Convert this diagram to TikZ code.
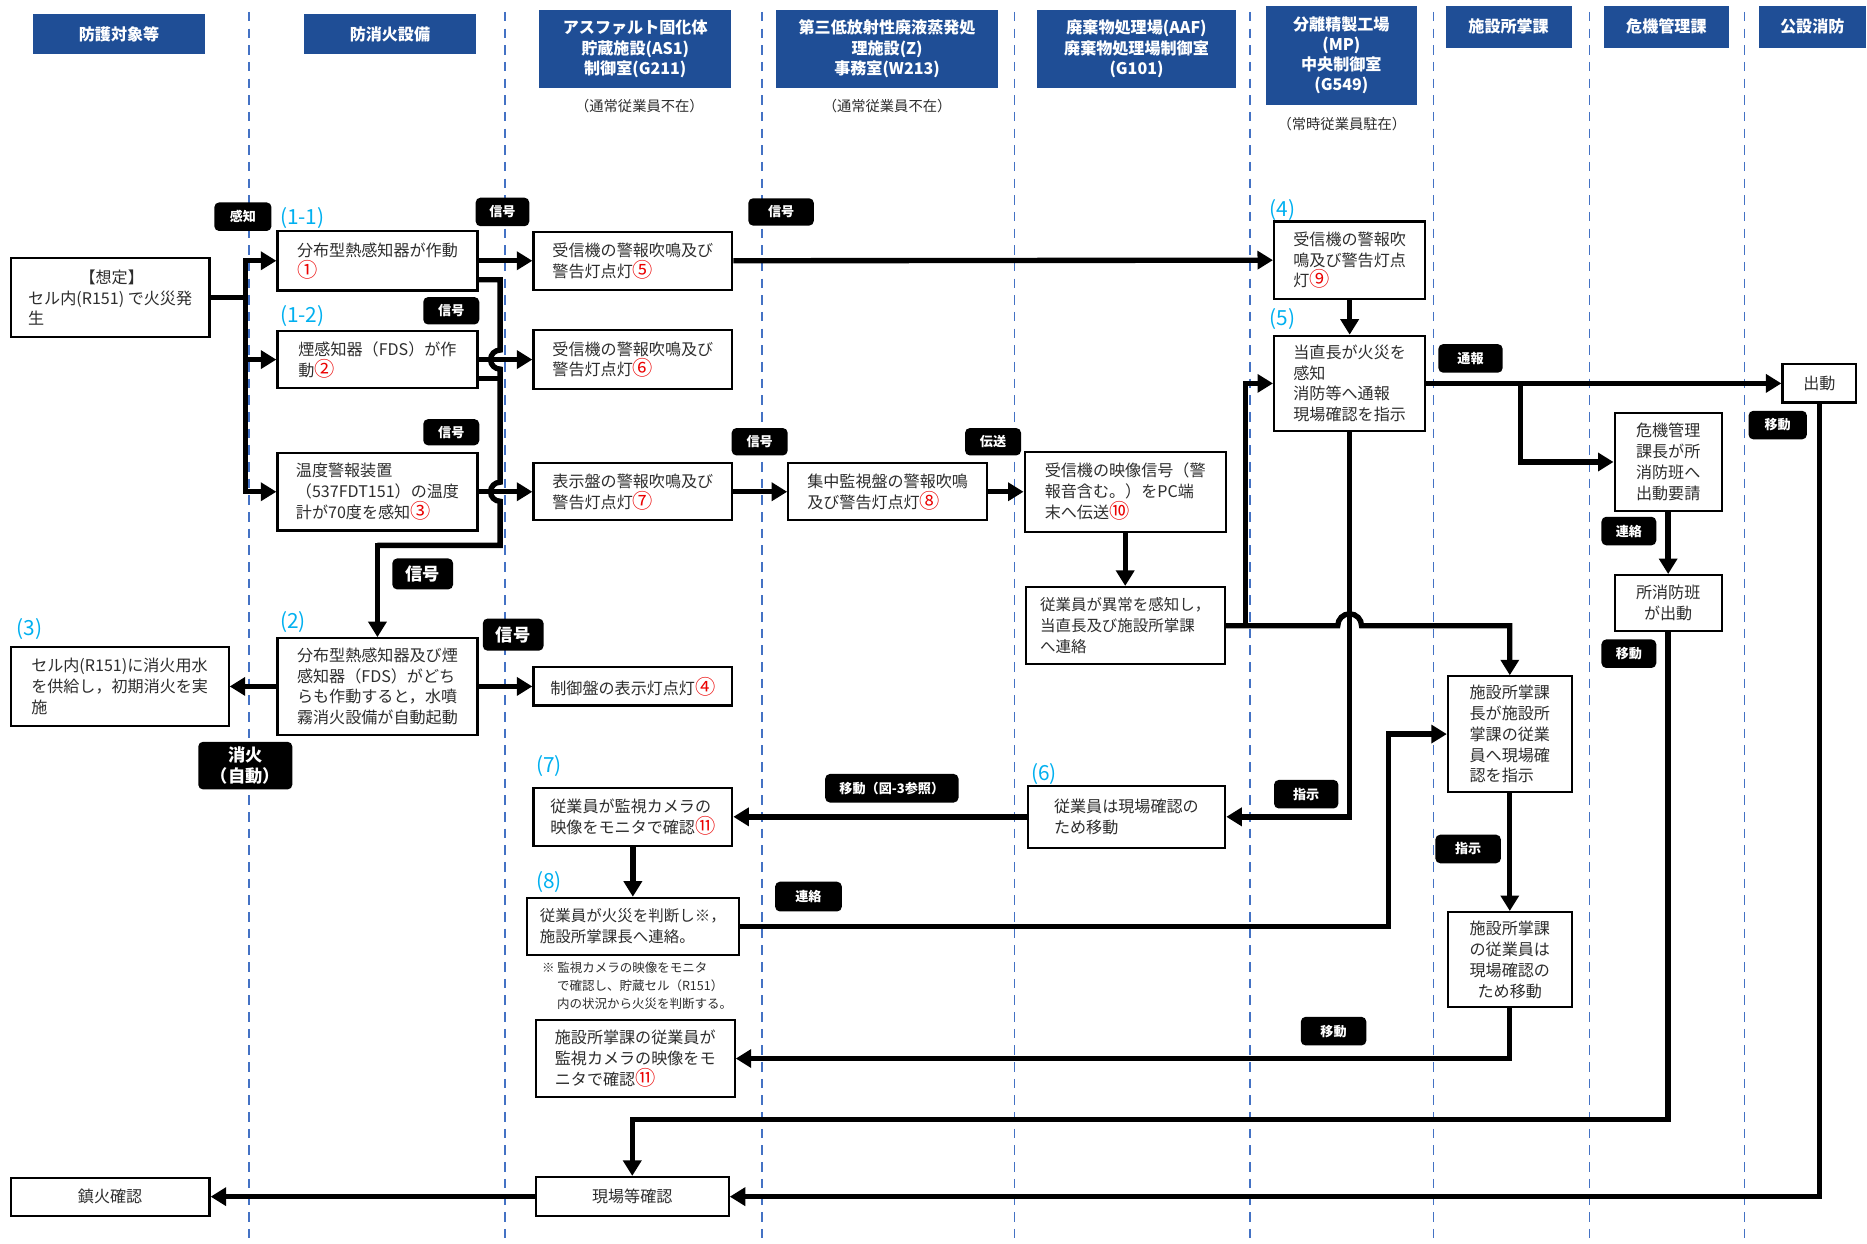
\documentclass[tikz,border=0pt]{standalone}
\usepackage{fontspec}
\setmainfont{Noto Sans CJK JP}
\usetikzlibrary{arrows.meta}
\definecolor{hdblue}{RGB}{31,78,150}
\definecolor{lanecol}{RGB}{68,114,196}
\definecolor{stepcol}{RGB}{0,176,240}
\definecolor{numred}{RGB}{235,0,0}
\definecolor{txt}{RGB}{45,45,45}
% red circled reference numbers, set a little larger than the body text
\newcommand\cn[1]{{\fontsize{17}{17}\selectfont\textcolor{numred}{#1}}}
\tikzset{
  hdr/.style={fill=hdblue, text=white, font=\fontsize{13.5}{17}\selectfont\bfseries, align=center, inner sep=0pt},
  bx/.style={draw=black, line width=1.8pt, fill=white, text=txt, font=\fontsize{13.5}{17.5}\selectfont, align=left, inner sep=0pt},
  bxc/.style={bx, align=center},
  tag/.style={fill=black, rounded corners=4pt, text=white, font=\fontsize{11}{12}\selectfont\bfseries, inner sep=0pt, align=center},
  bigtag/.style={tag, font=\fontsize{14.5}{17}\selectfont\bfseries},
  lane/.style={lanecol, line width=1.4pt, dash pattern=on 8pt off 6pt},
  ln/.style={line width=4.5pt, black},
  arr/.style={ln, -{Triangle[length=13pt,width=15pt]}},
  stepno/.style={text=stepcol, font=\fontsize{17.5}{19}\selectfont, anchor=west, inner sep=0pt},
  subnote/.style={text=txt, font=\fontsize{12}{14}\selectfont, inner sep=0pt},
}
\begin{document}
\begin{tikzpicture}[x=1pt,y=-1pt]
\fill[white] (0,0) rectangle (1568,1044);
\useasboundingbox (0,0) rectangle (1568,1044);

% swim-lane separators
\foreach \lx in {209,424,640,852,1050,1204,1335,1465}
  \draw[lane] (\lx,10) -- (\lx,1044);

% lane headers
\node[hdr, minimum width=144pt, minimum height=33pt] (h1) at (100,28.5) {防護対象等};
\node[hdr, minimum width=145pt, minimum height=33pt] (h2) at (327.5,28.5) {防消火設備};
\node[hdr, minimum width=161pt, minimum height=66pt] (h3) at (533.5,41) {アスファルト固化体\\貯蔵施設(AS1)\\制御室(G211)};
\node[hdr, minimum width=186pt, minimum height=66pt] (h4) at (745,41) {第三低放射性廃液蒸発処\\理施設(Z)\\事務室(W213)};
\node[hdr, minimum width=167pt, minimum height=66pt] (h5) at (954.5,41) {廃棄物処理場(AAF)\\廃棄物処理場制御室\\(G101)};
\node[hdr, minimum width=127pt, minimum height=83pt] (h6) at (1126.5,46.5) {分離精製工場\\(MP)\\中央制御室\\(G549)};
\node[hdr, minimum width=106pt, minimum height=35pt] (h7) at (1267,22.5) {施設所掌課};
\node[hdr, minimum width=105pt, minimum height=35pt] (h8) at (1399.5,22.5) {危機管理課};
\node[hdr, minimum width=90pt, minimum height=35pt] (h9) at (1522,22.5) {公設消防};

\node[subnote] (s3) at (537,89) {（通常従業員不在）};
\node[subnote] (s4) at (745,89) {（通常従業員不在）};
\node[subnote] (s6) at (1127,104) {（常時従業員駐在）};

% process boxes
\node[bx, minimum width=167pt, minimum height=66pt] (A) at (92.5,250) {\hspace*{3.2em}【想定】\\セル内(R151) で火災発\\生};
\node[bx, minimum width=168pt, minimum height=50pt] (B) at (317,219) {分布型熱感知器が作動\\\cn{①}};
\node[bx, minimum width=168pt, minimum height=48pt] (C) at (317,302) {煙感知器（FDS）が作\\動\cn{②}};
\node[bx, minimum width=168pt, minimum height=65pt] (D) at (317,413) {温度警報装置\\（537FDT151）の温度\\計が70度を感知\cn{③}};
\node[bx, minimum width=167pt, minimum height=49pt] (E) at (531.5,219) {受信機の警報吹鳴及び\\警告灯点灯\cn{⑤}};
\node[bx, minimum width=167pt, minimum height=49pt] (F) at (531.5,302) {受信機の警報吹鳴及び\\警告灯点灯\cn{⑥}};
\node[bx, minimum width=167pt, minimum height=48pt] (G) at (531.5,413) {表示盤の警報吹鳴及び\\警告灯点灯\cn{⑦}};
\node[bx, minimum width=167pt, minimum height=48pt] (H) at (745.5,413) {集中監視盤の警報吹鳴\\及び警告灯点灯\cn{⑧}};
\node[bx, minimum width=169pt, minimum height=67pt] (I) at (945,413) {受信機の映像信号（警\\報音含む。）をPC端\\末へ伝送\cn{⑩}};
\node[bx, minimum width=167pt, minimum height=65pt, font=\fontsize{13}{17.5}\selectfont] (J) at (945,525.5) {従業員が異常を感知し，\\当直長及び施設所掌課\\へ連絡};
\node[bx, minimum width=127pt, minimum height=65pt] (K) at (1133.5,218.5) {受信機の警報吹\\鳴及び警告灯点\\灯\cn{⑨}};
\node[bx, minimum width=127pt, minimum height=80pt] (L) at (1133.5,322) {当直長が火災を\\感知\\消防等へ通報\\現場確認を指示};
\node[bxc, minimum width=62pt, minimum height=32pt] (M) at (1528,322) {出動};
\node[bxc, minimum width=90pt, minimum height=82pt] (N) at (1401,388) {危機管理\\課長が所\\消防班へ\\出動要請};
\node[bxc, minimum width=90pt, minimum height=47pt] (O) at (1401,506.5) {所消防班\\が出動};
\node[bx, minimum width=104pt, minimum height=97pt] (P) at (1268,616.5) {施設所掌課\\長が施設所\\掌課の従業\\員へ現場確\\認を指示};
\node[bxc, minimum width=104pt, minimum height=80pt] (Q) at (1268,806) {施設所掌課\\の従業員は\\現場確認の\\ため移動};
\node[bx, minimum width=168pt, minimum height=81pt] (R) at (317,576.5) {分布型熱感知器及び煙\\感知器（FDS）がどち\\らも作動すると，水噴\\霧消火設備が自動起動};
\node[bx, minimum width=183pt, minimum height=66pt] (S) at (100.5,576.5) {セル内(R151)に消火用水\\を供給し，初期消火を実\\施};
\node[bx, minimum width=167pt, minimum height=32pt] (T) at (531.5,576.5) {制御盤の表示灯点灯\cn{④}};
\node[bx, minimum width=167pt, minimum height=49pt] (U) at (531.5,686) {従業員が監視カメラの\\映像をモニタで確認\cn{⑪}};
\node[bx, minimum width=166pt, minimum height=52pt] (V) at (946,686) {従業員は現場確認の\\ため移動};
\node[bx, minimum width=178pt, minimum height=48pt, font=\fontsize{13}{17.5}\selectfont] (W) at (531.5,778) {従業員が火災を判断し※，\\施設所掌課長へ連絡。};
\node[bx, minimum width=167pt, minimum height=65pt] (X) at (533.5,889) {施設所掌課の従業員が\\監視カメラの映像をモ\\ニタで確認\cn{⑪}};
\node[bxc, minimum width=162pt, minimum height=33pt] (Y) at (531,1005) {現場等確認};
\node[bxc, minimum width=167pt, minimum height=32pt] (Z) at (92.5,1005) {鎮火確認};

% footnote to box W
\node[anchor=north west, align=left, text=txt, inner sep=0pt, font=\fontsize{10.5}{15}\selectfont] (note) at (455,808)
  {※ 監視カメラの映像をモニタ\\\hspace*{1.2em}で確認し、貯蔵セル（R151）\\\hspace*{1.2em}内の状況から火災を判断する。};

% step numbers
\node[stepno] (n11) at (235,183) {(1-1)};
\node[stepno] (n12) at (235,265) {(1-2)};
\node[stepno] (n2) at (235,522) {(2)};
\node[stepno] (n3) at (14,528) {(3)};
\node[stepno] (n4) at (1066,176) {(4)};
\node[stepno] (n5) at (1066,268) {(5)};
\node[stepno] (n6) at (866,650) {(6)};
\node[stepno] (n7) at (450,643) {(7)};
\node[stepno] (n8) at (450,741) {(8)};

% connectors
\draw[arr] (A.east) -- (206,250) |- (B.west);
\draw[arr] (206,250) |- (C.west);
\draw[arr] (206,250) |- (D.west);
\draw[arr] (B.east) -- (E.west);
\draw[arr] (C.east) -- (F.west);
\draw[arr] (D.east) -- (G.west);
\draw[arr] (E.east) -- (K.west);
\draw[ln] (401,318) -- (420,318);
\draw[ln] (401,235) -- (420,235) -- (420,294) arc (270:90:8) -- (420,405) arc (270:90:8) -- (420,458) -- (317,458);
\draw[arr] (317,456) -- (R.north);
\draw[arr] (R.west) -- (S.east);
\draw[arr] (R.east) -- (T.west);
\draw[arr] (G.east) -- (H.west);
\draw[arr] (H.east) -- (I.west);
\draw[arr] (I.south) -- (J.north);
\draw[arr] (K.south) -- (L.north);
\draw[arr] (J.east) -- (1046,525.5) |- (L.west);
\draw[arr] (J.east) -- (1123.5,525.5) arc (180:360:10) -- (1268,525.5) -- (P.north);
\draw[arr] (L.south) -- (1133.5,686) -- (V.east);
\draw[arr] (L.east) -- (M.west);
\draw[arr] (1277,322) |- (N.west);
\draw[arr] (N.south) -- (O.north);
\draw[arr] (O.south) -- (1401,940) -| (Y.north);
\draw[arr] (M.south) -- (1528,1005) -- (Y.east);
\draw[arr] (V.west) -- (U.east);
\draw[arr] (U.south) -- (W.north);
\draw[arr] (W.east) -- (1166,778) |- (P.west);
\draw[arr] (P.south) -- (Q.north);
\draw[arr] (Q.south) -- (1268,889) -- (X.east);
\draw[arr] (Y.west) -- (Z.east);

% connector tags
\node[tag, minimum width=48pt, minimum height=24pt] (t1) at (204,182) {感知};
\node[tag, minimum width=45pt, minimum height=24pt] (t2) at (422,178) {信号};
\node[tag, minimum width=55pt, minimum height=23pt] (t3) at (656,178) {信号};
\node[tag, minimum width=47pt, minimum height=23pt] (t4) at (379,261) {信号};
\node[tag, minimum width=47pt, minimum height=22pt] (t5) at (379,363) {信号};
\node[tag, minimum width=47pt, minimum height=23pt] (t6) at (638,371) {信号};
\node[tag, minimum width=47pt, minimum height=23pt] (t7) at (834,371) {伝送};
\node[bigtag, minimum width=51pt, minimum height=26pt] (t8) at (355,482) {信号};
\node[bigtag, minimum width=51pt, minimum height=27pt] (t9) at (431,533) {信号};
\node[bigtag, minimum width=79pt, minimum height=40pt] (t10) at (206,643) {消火\\（自動）};
\node[tag, minimum width=112pt, minimum height=24pt] (t11) at (749,662) {移動（図-3参照）};
\node[tag, minimum width=54pt, minimum height=24pt] (t12) at (1097,667) {指示};
\node[tag, minimum width=56pt, minimum height=25pt] (t13) at (679,753) {連絡};
\node[tag, minimum width=55pt, minimum height=24pt] (t14) at (1120,866) {移動};
\node[tag, minimum width=55pt, minimum height=24pt] (t15) at (1233,713) {指示};
\node[tag, minimum width=54pt, minimum height=24pt] (t16) at (1235,301) {通報};
\node[tag, minimum width=49pt, minimum height=24pt] (t17) at (1493,357) {移動};
\node[tag, minimum width=46pt, minimum height=24pt] (t18) at (1368,446) {連絡};
\node[tag, minimum width=46pt, minimum height=24pt] (t19) at (1368,549) {移動};
\end{tikzpicture}
\end{document}
